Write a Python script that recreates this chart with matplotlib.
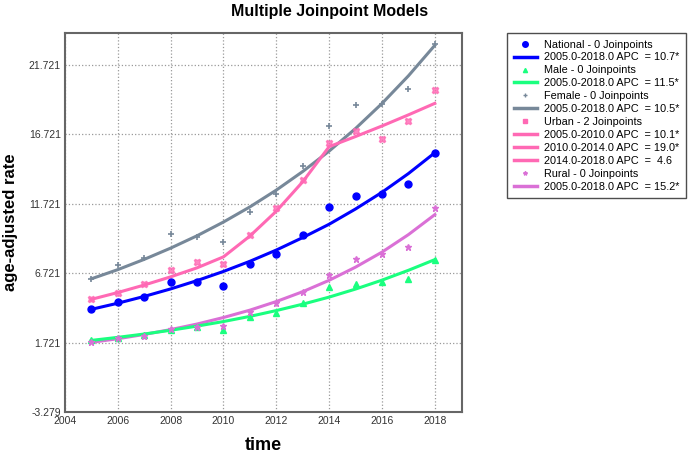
import matplotlib
matplotlib.use("Agg")
import matplotlib.pyplot as plt
from matplotlib.lines import Line2D

plt.rcParams['font.family'] = ['Liberation Sans', 'DejaVu Sans']

years = list(range(2005, 2019))

# observed rates
national_obs = [4.12, 4.67, 5.01, 6.11, 6.11, 5.80, 7.36, 8.12, 9.47, 11.49, 12.31, 12.41, 13.15, 15.36]
male_obs = [1.91, 2.08, 2.27, 2.63, 2.87, 2.63, 3.59, 3.83, 4.55, 5.71, 5.92, 6.07, 6.30, 7.67]
female_obs = [6.32, 7.33, 7.79, 9.54, 9.35, 8.97, 11.10, 12.45, 14.44, 17.34, 18.81, 18.90, 20.03, 23.22]
urban_obs = [4.84, 5.32, 5.92, 6.95, 7.50, 7.36, 9.49, 11.39, 13.43, 16.07, 16.96, 16.38, 17.70, 19.91]
rural_obs = [1.74, 2.03, 2.22, 2.68, 2.85, 2.90, 3.95, 4.60, 5.35, 6.59, 7.74, 8.10, 8.58, 11.44]

# fitted (joinpoint) values
national_fit = [4.12, 4.56, 5.05, 5.59, 6.19, 6.85, 7.58, 8.39, 9.29, 10.25, 11.35, 12.55, 13.90, 15.40]
male_fit = [1.88, 2.10, 2.34, 2.61, 2.91, 3.24, 3.61, 4.03, 4.49, 5.00, 5.58, 6.22, 6.93, 7.70]
female_fit = [6.32, 6.98, 7.72, 8.53, 9.42, 10.41, 11.50, 12.71, 14.05, 15.52, 17.15, 18.95, 20.94, 23.14]
urban_fit = [4.84, 5.33, 5.87, 6.46, 7.11, 7.90, 9.40, 11.19, 13.31, 15.84, 16.57, 17.33, 18.13, 18.96]
rural_fit = [1.74, 2.00, 2.31, 2.66, 3.06, 3.53, 4.06, 4.68, 5.39, 6.21, 7.16, 8.24, 9.50, 10.94]

ytick_vals = [-3.279, 1.721, 6.721, 11.721, 16.721, 21.721]
xtick_vals = [2004, 2006, 2008, 2010, 2012, 2014, 2016, 2018]

c_nat = '#0000ff'
c_male = '#1aff7f'
c_fem = '#778899'
c_urb = '#ff69b4'
c_rur = '#da70d6'

fig = plt.figure(figsize=(6.9, 4.55), dpi=100)
ax = fig.add_axes([65/690, 43/455, 397/690, 379/455])

lw = 2.2
ax.plot(years, female_fit, color=c_fem, lw=lw, zorder=3)
ax.plot(years, urban_fit, color=c_urb, lw=lw, zorder=3)
ax.plot(years, national_fit, color=c_nat, lw=lw, zorder=3)
ax.plot(years, rural_fit, color=c_rur, lw=lw, zorder=3)
ax.plot(years, male_fit, color=c_male, lw=lw, zorder=3)

ax.plot(years, national_obs, 'o', color=c_nat, ms=5, zorder=4)
ax.plot(years, male_obs, '^', color=c_male, ms=4, zorder=4)
ax.plot(years, female_obs, '+', color=c_fem, ms=5, mew=1.2, zorder=4)
ax.plot(years, urban_obs, 'X', color=c_urb, ms=5, alpha=0.8, zorder=4)
ax.plot(years, rural_obs, '*', color=c_rur, ms=5, zorder=4)

ax.set_xlim(2004, 2019.03)
ax.set_ylim(-3.279, 24.03)
ax.set_xticks(xtick_vals)
ax.set_yticks(ytick_vals)
ax.set_yticklabels(['%.3f' % v for v in ytick_vals])
ax.tick_params(length=0, labelsize=7.5, colors='#333333', pad=3)
ax.grid(True, ls=':', color='#999999', lw=0.9)
for s in ax.spines.values():
    s.set_color('#666666')
    s.set_linewidth(1.5)

ax.set_xlabel('time', fontsize=13, fontweight='bold', labelpad=8)
ax.set_ylabel('age-adjusted rate', fontsize=12, fontweight='bold', labelpad=8)
fig.text(0.478, 0.975, 'Multiple Joinpoint Models', ha='center', va='center',
         fontsize=11.5, fontweight='bold')

def mk(marker, color, ms=4):
    return Line2D([], [], ls='none', marker=marker, color=color, ms=ms)

def ln(color):
    return Line2D([], [], color=color, lw=2.5)

handles = [mk('o', c_nat, 4), ln(c_nat),
           mk('^', c_male, 3), ln(c_male),
           mk('+', c_fem, 3), ln(c_fem),
           mk('s', c_urb, 3), ln(c_urb), ln(c_urb), ln(c_urb),
           mk('*', c_rur, 3), ln(c_rur)]
labels = ['National - 0 Joinpoints', '2005.0-2018.0 APC  = 10.7*',
          'Male - 0 Joinpoints', '2005.0-2018.0 APC  = 11.5*',
          'Female - 0 Joinpoints', '2005.0-2018.0 APC  = 10.5*',
          'Urban - 2 Joinpoints', '2005.0-2010.0 APC  = 10.1*',
          '2010.0-2014.0 APC  = 19.0*', '2014.0-2018.0 APC  =  4.6',
          'Rural - 0 Joinpoints', '2005.0-2018.0 APC  = 15.2*']
leg = fig.legend(handles, labels, loc='upper left', bbox_to_anchor=(507/690, 1 - 33/455),
                 fontsize=7.8, frameon=True, fancybox=False, edgecolor='#222222',
                 handlelength=2.2, handletextpad=0.6, labelspacing=0.27,
                 borderpad=0.6, borderaxespad=0)
leg.get_frame().set_linewidth(1.0)

fig.savefig('out.png', dpi=100)
